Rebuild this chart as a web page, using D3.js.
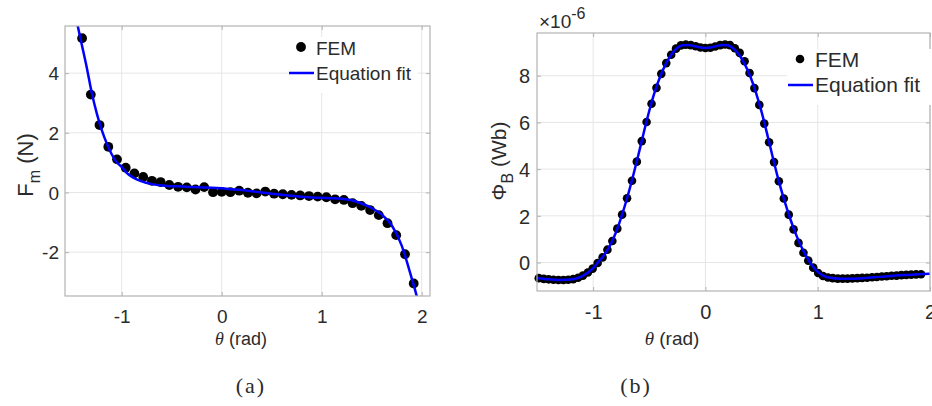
<!DOCTYPE html>
<html>
<head>
<meta charset="utf-8">
<script src="https://cdn.jsdelivr.net/npm/d3@7/dist/d3.min.js"></script>
<style>
  body { margin: 0; background: #fff; }
  text { font-family: "Liberation Sans", Arial, sans-serif; fill: #2b2b2b; }
</style>
</head>
<body>
<svg id="chart" width="932" height="406"></svg>
<script>
// ---- panel (a): magnetic force vs angle ----
const thetaA = [-1.396, -1.309, -1.222, -1.134, -1.047, -0.960, -0.873, -0.785, -0.698, -0.611,
                -0.524, -0.436, -0.349, -0.262, -0.175, -0.087, 0, 0.087, 0.175, 0.262,
                0.349, 0.436, 0.524, 0.611, 0.698, 0.785, 0.873, 0.960, 1.047, 1.134,
                1.222, 1.309, 1.396, 1.484, 1.571, 1.658, 1.745, 1.833, 1.920];
const forceFEM = [5.17, 3.28, 2.26, 1.53, 1.11, 0.83, 0.64, 0.52, 0.39, 0.35,
                  0.25, 0.19, 0.17, 0.10, 0.18, 0.01, 0.02, 0.01, 0.06, -0.01,
                  -0.03, 0.03, -0.04, -0.06, -0.08, -0.10, -0.12, -0.14, -0.16, -0.23,
                  -0.25, -0.36, -0.45, -0.59, -0.76, -1.03, -1.43, -2.07, -3.05];
const thetaFitA = [-1.47, -1.44, -1.40, -1.35, -1.30, -1.25, -1.20, -1.15, -1.10, -1.05, -1.00, -0.95, -0.90,
                   -0.85, -0.80, -0.70, -0.60, -0.50, -0.40, -0.30, -0.20, -0.10, 0, 0.10, 0.20, 0.30,
                   0.40, 0.50, 0.60, 0.70, 0.80, 0.90, 1.00, 1.10, 1.20, 1.30, 1.40, 1.50, 1.60,
                   1.70, 1.80, 1.85, 1.90, 1.95, 1.98];
const forceFit = [6.10, 5.59, 4.97, 4.20, 3.35, 2.66, 2.10, 1.65, 1.28, 1.01, 0.86, 0.66, 0.53,
                  0.44, 0.37, 0.28, 0.23, 0.21, 0.20, 0.18, 0.17, 0.16, 0.14, 0.11, 0.08, 0.04,
                  0.00, -0.04, -0.08, -0.11, -0.14, -0.17, -0.18, -0.19, -0.21, -0.26, -0.37, -0.52, -0.74,
                  -1.10, -1.78, -2.30, -2.88, -3.47, -3.90];

// ---- panel (b): magnetic flux vs angle (x 1e-6 Wb) ----
const thetaB = [-1.484, -1.440, -1.396, -1.353, -1.309, -1.265, -1.222, -1.178, -1.134, -1.091,
                -1.047, -1.004, -0.960, -0.916, -0.873, -0.829, -0.785, -0.742, -0.698, -0.654,
                -0.611, -0.567, -0.524, -0.480, -0.436, -0.393, -0.349, -0.305, -0.262, -0.218,
                -0.175, -0.131, -0.087, -0.044, 0, 0.044, 0.087, 0.131, 0.175, 0.218,
                0.262, 0.305, 0.349, 0.393, 0.436, 0.480, 0.524, 0.567, 0.611, 0.654,
                0.698, 0.742, 0.785, 0.829, 0.873, 0.916, 0.960, 1.004, 1.047, 1.091,
                1.134, 1.178, 1.222, 1.265, 1.309, 1.353, 1.396, 1.440, 1.484, 1.527,
                1.571, 1.614, 1.658, 1.702, 1.745, 1.789, 1.833, 1.876, 1.920];
const fluxFEM = [-0.67, -0.70, -0.72, -0.74, -0.75, -0.75, -0.74, -0.71, -0.65, -0.56,
                 -0.43, -0.26, -0.02, 0.22, 0.55, 0.92, 1.45, 2.05, 2.75, 3.50,
                 4.32, 5.20, 6.02, 6.80, 7.48, 8.08, 8.54, 8.90, 9.16, 9.30,
                 9.33, 9.31, 9.26, 9.21, 9.19, 9.20, 9.25, 9.31, 9.34, 9.31,
                 9.18, 8.98, 8.62, 8.12, 7.47, 6.75, 5.95, 5.15, 4.30, 3.48,
                 2.74, 2.05, 1.42, 0.84, 0.42, 0.08, -0.22, -0.45, -0.58, -0.64,
                 -0.67, -0.69, -0.69, -0.69, -0.68, -0.67, -0.66, -0.65, -0.63, -0.62,
                 -0.60, -0.59, -0.57, -0.56, -0.54, -0.53, -0.52, -0.51, -0.50];
const thetaFitB = [-1.50, -1.40, -1.30, -1.20, -1.10, -1.00, -0.95, -0.90, -0.85, -0.80, -0.75, -0.70,
                   -0.65, -0.60, -0.55, -0.50, -0.45, -0.40, -0.35, -0.30, -0.25, -0.20, -0.15, -0.10,
                   -0.05, 0, 0.05, 0.10, 0.15, 0.20, 0.25, 0.30, 0.35, 0.40, 0.45, 0.50, 0.55, 0.60,
                   0.65, 0.70, 0.75, 0.80, 0.85, 0.90, 0.95, 1.00, 1.05, 1.10, 1.20, 1.30, 1.40,
                   1.50, 1.60, 1.70, 1.80, 1.90, 2.00];
const fluxFit = [-0.66, -0.72, -0.75, -0.73, -0.59, -0.24, 0.05, 0.33, 0.72, 1.25, 1.93, 2.72,
                 3.60, 4.55, 5.55, 6.50, 7.33, 8.00, 8.53, 8.93, 9.20, 9.31, 9.32, 9.27,
                 9.22, 9.19, 9.21, 9.27, 9.32, 9.31, 9.16, 8.90, 8.50, 7.97, 7.28, 6.45, 5.50, 4.50,
                 3.55, 2.70, 1.95, 1.28, 0.72, 0.26, -0.13, -0.40, -0.56, -0.64, -0.69, -0.69, -0.67,
                 -0.63, -0.60, -0.56, -0.53, -0.50, -0.48];

const xTicks = [-1, 0, 1, 2];
const yTicksA = [-2, 0, 2, 4];
const yTicksB = [0, 2, 4, 6, 8];

const svg = d3.select("#chart");

function drawPanel(p) {
    const x = d3.scaleLinear().domain(p.xDomain).range([p.left, p.right]);
    const y = d3.scaleLinear().domain(p.yDomain).range([p.bottom, p.top]);
    const g = svg.append("g");

    g.append("clipPath").attr("id", p.id + "-clip")
     .append("rect")
     .attr("x", p.left).attr("y", p.top)
     .attr("width", p.right - p.left).attr("height", p.bottom - p.top);

    /* grid */
    g.selectAll(".vgrid").data(p.xTicks).enter().append("line")
     .attr("x1", d => x(d)).attr("x2", d => x(d))
     .attr("y1", p.top).attr("y2", p.bottom)
     .attr("stroke", "#e6e6e6").attr("stroke-width", 1);
    g.selectAll(".hgrid").data(p.yTicks).enter().append("line")
     .attr("x1", p.left).attr("x2", p.right)
     .attr("y1", d => y(d)).attr("y2", d => y(d))
     .attr("stroke", "#e6e6e6").attr("stroke-width", 1);

    /* FEM dots */
    g.append("g").selectAll("circle")
     .data(p.xs.map((v, i) => [v, p.ys[i]]))
     .enter().append("circle")
     .attr("cx", d => x(d[0])).attr("cy", d => y(d[1]))
     .attr("r", p.dotR).attr("fill", "#000");

    /* fit line */
    const line = d3.line().x(d => x(d[0])).y(d => y(d[1])).curve(d3.curveMonotoneX);
    g.append("path")
     .datum(p.fitX.map((v, i) => [v, p.fitY[i]]))
     .attr("clip-path", "url(#" + p.id + "-clip)")
     .attr("d", line)
     .attr("fill", "none").attr("stroke", "#0000ff").attr("stroke-width", 2.5);

    /* frame + inward ticks on all four sides */
    g.append("rect")
     .attr("x", p.left).attr("y", p.top)
     .attr("width", p.right - p.left).attr("height", p.bottom - p.top)
     .attr("fill", "none").attr("stroke", "#b3b3b3").attr("stroke-width", 1.2);

    const ax = g.append("g").attr("transform", "translate(0," + p.bottom + ")")
                .call(d3.axisBottom(x).tickValues(p.xTicks).tickSize(-4).tickFormat(d => String(d)));
    const axTop = g.append("g").attr("transform", "translate(0," + p.top + ")")
                .call(d3.axisTop(x).tickValues(p.xTicks).tickSize(-4).tickFormat(""));
    const ay = g.append("g").attr("transform", "translate(" + p.left + ",0)")
                .call(d3.axisLeft(y).tickValues(p.yTicks).tickSize(-4).tickFormat(d => String(d)));
    const ayR = g.append("g").attr("transform", "translate(" + p.right + ",0)")
                .call(d3.axisRight(y).tickValues(p.yTicks).tickSize(-4).tickFormat(""));
    [ax, axTop, ay, ayR].forEach(a => {
        a.select(".domain").remove();
        a.selectAll(".tick line").attr("stroke", "#b3b3b3");
    });
    ax.selectAll(".tick text").attr("y", p.xLabelDy).attr("dy", 0)
      .style("font-size", p.tickFont + "px").attr("fill", "#2b2b2b");
    ay.selectAll(".tick text").attr("x", -p.yLabelGap).attr("dy", "0.36em")
      .style("font-size", p.tickFont + "px").attr("fill", "#2b2b2b");

    /* x label: theta (rad) */
    const xl = g.append("text")
        .attr("x", p.xTitleX).attr("y", 345)
        .attr("text-anchor", "middle")
        .style("font-size", p.titleFont + "px");
    xl.append("tspan").text("θ")
      .style("font-family", "'Liberation Serif', 'Times New Roman', serif")
      .style("font-style", "italic");
    xl.append("tspan").text(" (rad)");

    /* legend */
    const lg = g.append("g");
    lg.append("rect")
      .attr("x", p.legX - 28).attr("y", p.legY - 18)
      .attr("width", p.legW).attr("height", 56)
      .attr("fill", "#fff");
    lg.append("circle").attr("cx", p.legX - 15).attr("cy", p.legY - 8)
      .attr("r", p.dotR).attr("fill", "#000");
    lg.append("text").attr("x", p.legX).attr("y", p.legY)
      .style("font-size", p.legFont + "px").text("FEM");
    lg.append("line")
      .attr("x1", p.legX - 27).attr("x2", p.legX - 2)
      .attr("y1", p.legY + 18).attr("y2", p.legY + 18)
      .attr("stroke", "#0000ff").attr("stroke-width", 2.5);
    lg.append("text").attr("x", p.legX).attr("y", p.legY + 25)
      .style("font-size", p.legFont + "px").text("Equation fit");

    /* panel caption */
    svg.append("text")
       .attr("x", p.capX).attr("y", 393)
       .attr("text-anchor", "middle")
       .style("font-family", "'Liberation Serif', 'Times New Roman', serif")
       .style("font-size", "22px").style("letter-spacing", "2px").attr("fill", "#111")
       .text(p.caption);
}

drawPanel({
    id: "pa", left: 65, right: 430, top: 26, bottom: 296,
    xDomain: [-1.567, 2.083], yDomain: [-3.47, 5.58],
    xTicks: xTicks, yTicks: yTicksA,
    xs: thetaA, ys: forceFEM, fitX: thetaFitA, fitY: forceFit,
    dotR: 4.9, tickFont: 19, titleFont: 18, legFont: 19,
    xLabelDy: 27, yLabelGap: 6, xTitleX: 241,
    legX: 316, legY: 55, legW: 130,
    capX: 251, caption: "(a)"
});

drawPanel({
    id: "pb", left: 537, right: 930, top: 33, bottom: 291,
    xDomain: [-1.5, 2.0], yDomain: [-1.22, 9.83],
    xTicks: xTicks, yTicks: yTicksB,
    xs: thetaB, ys: fluxFEM, fitX: thetaFitB, fitY: fluxFit,
    dotR: 4.3, tickFont: 20, titleFont: 19, legFont: 21,
    xLabelDy: 28, yLabelGap: 7, xTitleX: 672,
    legX: 815, legY: 67, legW: 150,
    capX: 636, caption: "(b)"
});

/* y titles with subscripts */
const yta = svg.append("text")
   .attr("transform", "translate(33,165) rotate(-90)")
   .attr("text-anchor", "middle")
   .style("font-size", "22px");
yta.append("tspan").text("F");
yta.append("tspan").text("m").attr("dy", 7).style("font-size", "16px");
yta.append("tspan").text(" (N)").attr("dy", -7);

const ytb = svg.append("text")
   .attr("transform", "translate(506,161) rotate(-90)")
   .attr("text-anchor", "middle")
   .style("font-size", "21px");
ytb.append("tspan").text("Φ");
ytb.append("tspan").text("B").attr("dy", 7).style("font-size", "16px");
ytb.append("tspan").text(" (Wb)").attr("dy", -7);

/* exponent label */
const ex = svg.append("text").attr("x", 539).attr("y", 28).style("font-size", "19px");
ex.append("tspan").text("×10");
ex.append("tspan").text("-6").attr("dy", -9).style("font-size", "16px");
</script>
</body>
</html>
